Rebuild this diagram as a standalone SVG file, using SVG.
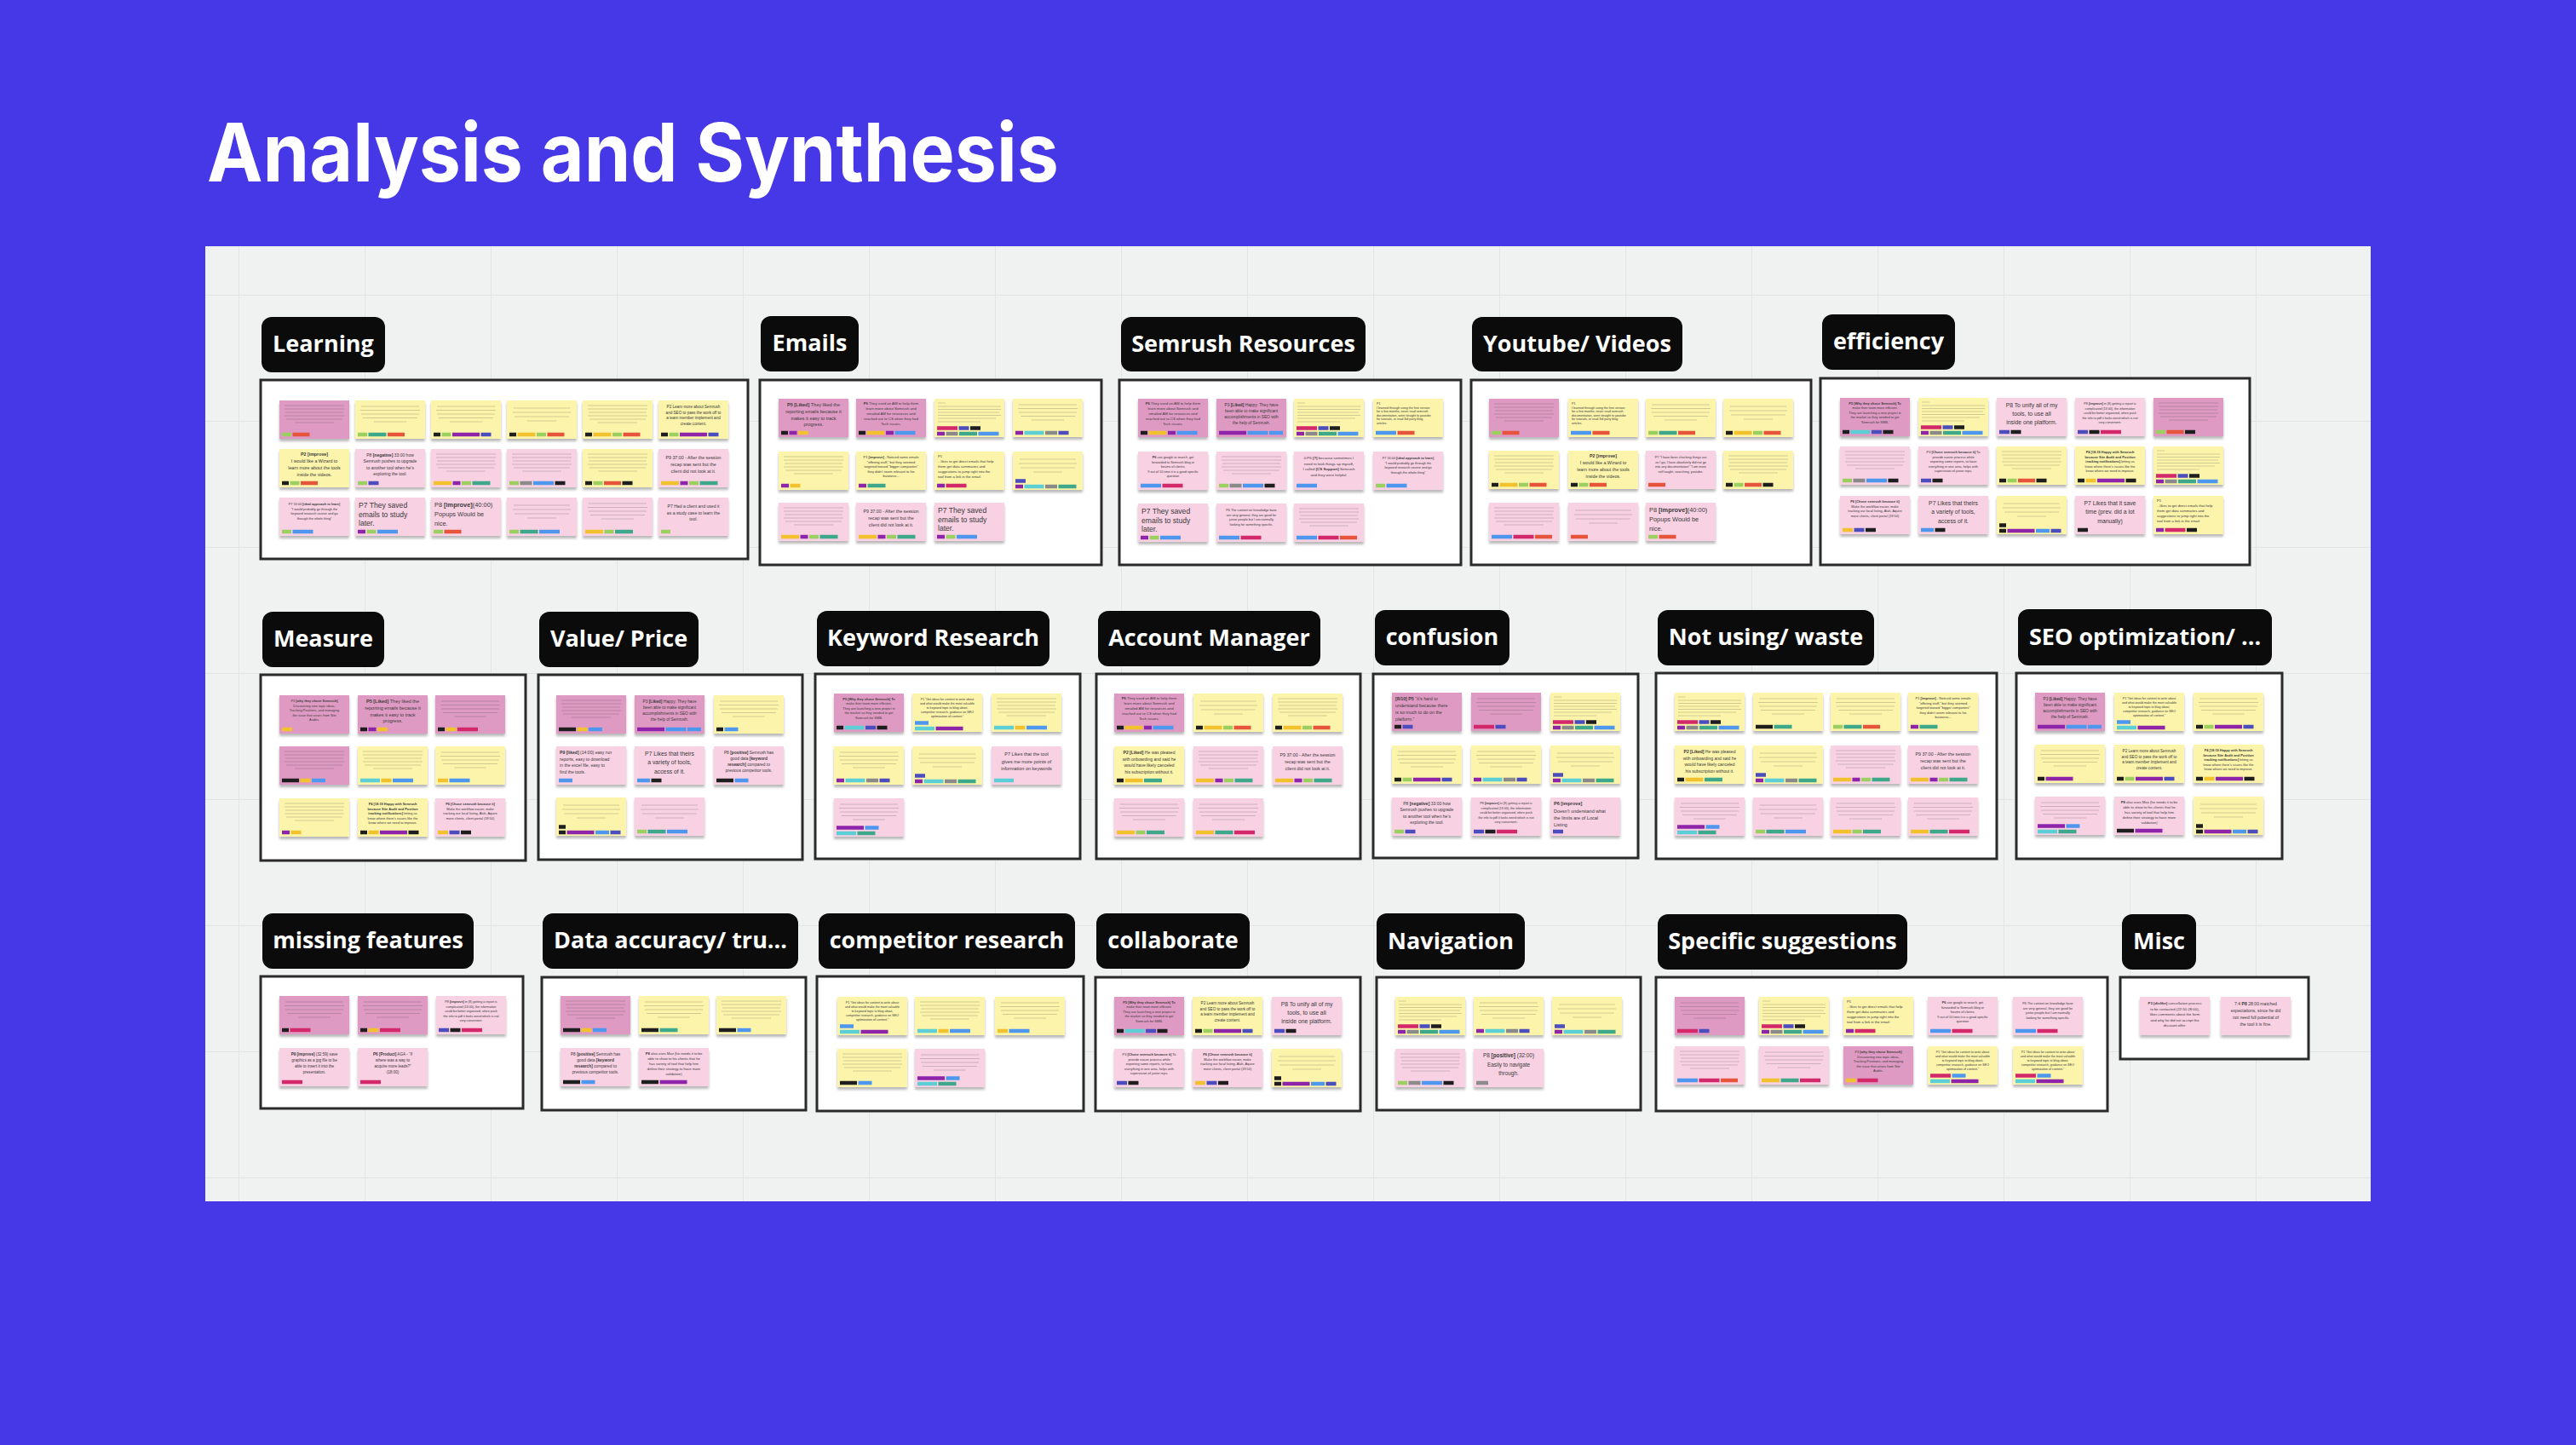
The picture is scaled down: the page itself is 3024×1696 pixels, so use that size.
<svg xmlns="http://www.w3.org/2000/svg" xmlns:xlink="http://www.w3.org/1999/xlink" width="3024" height="1696" viewBox="0 0 3024 1696">
<style>
.lbl rect{fill:#0b0b0b}
.lbl text{font-family:"Open Sans","Liberation Sans",Arial,sans-serif;font-weight:700;font-size:27px;fill:#fff;text-anchor:middle}
.frm{fill:#fff;stroke:#2a2a2a;stroke-width:3}
.bgD{fill:#df9ac3}.bgP{fill:#f8d1e3}.bgY{fill:#fcf4ab}
.sh{filter:url(#ds)}
.tx{font-family:"Liberation Sans",Arial,sans-serif;fill:#3a3a3a}
.c{text-anchor:middle}
.ln{stroke:#444;stroke-width:1.2;opacity:.24;fill:none}
.k,.g,.o,.t,.p,.i,.y,.b,.cy,.r,.a{stroke-width:4.5;fill:none}
.k{stroke:#1e1e1e}.g{stroke:#9bd060}.o{stroke:#e5543b}.t{stroke:#3da88a}.p{stroke:#8e24aa}.i{stroke:#4b4dbe}.y{stroke:#f2c12e}.b{stroke:#4e97ef}.cy{stroke:#5ccfd6}.r{stroke:#d3286a}.a{stroke:#8a8a8a}
</style>
<defs>
<filter id="ds" x="-10%" y="-10%" width="120%" height="150%"><feDropShadow dx="0" dy="3" stdDeviation="1.6" flood-color="#000" flood-opacity=".28"/></filter>
<pattern id="grid" x="132" y="50" width="148" height="148" patternUnits="userSpaceOnUse"><path d="M0 0V148M0 0H148" stroke="#e3e5e5" stroke-width="2" fill="none"/></pattern>
<path id="L6" class="ln" d="M6 6h70M6 10h70M7 14h68M6 18h70M8 22h66M18 26h46"/>
<path id="L5" class="ln" d="M7 7h68M6 11.5h70M7 16h68M9 20.5h64M22 25h38"/>
<path id="L4" class="ln" d="M8 9h66M7 14h68M9 19h64M24 24h34"/>
<path id="Lt" class="ln" d="M4 5h9M4 9h74M4 12.5h74M4 16h72M4 19.5h74M4 23h68M4 27h50"/>

<g id="s_l1"><rect class="bgD sh" width="82" height="45"/><use href="#L6"/><path class="g" d="M3 40h11"/><path class="o" d="M15.5 40h20"/></g>
<g id="s_l2"><rect class="bgY sh" width="82" height="45"/><use href="#L5"/><path class="g" d="M3 40h11"/><path class="t" d="M15.5 40h21"/><path class="o" d="M38 40h20"/></g>
<g id="s_l3"><rect class="bgY sh" width="82" height="45"/><use href="#L5"/><path class="k" d="M3 40h8"/><path class="g" d="M12.5 40h11"/><path class="p" d="M25 40h32"/><path class="i" d="M58.5 40h12"/></g>
<g id="s_l4"><rect class="bgY sh" width="82" height="45"/><use href="#L4"/><path class="k" d="M3 40h8"/><path class="y" d="M12.5 40h21"/><path class="g" d="M35 40h11"/><path class="o" d="M47.5 40h20"/></g>
<g id="s_p4sat"><rect class="bgY sh" width="82" height="45"/><use href="#L6"/><path class="k" d="M3 40h8"/><path class="y" d="M12.5 40h21"/><path class="g" d="M35 40h11"/><path class="o" d="M47.5 40h20"/></g>
<g id="s_p2learn"><rect class="bgY sh" width="82" height="45"/><text class="tx c" font-size="4.6"><tspan x="41" y="9">P2 Learn more about Semrush</tspan><tspan x="41" y="15.5">and SEO to pass the work off to</tspan><tspan x="41" y="22">a team member implement and</tspan><tspan x="41" y="28.5">create content.</tspan></text><path class="k" d="M3 40h8"/><path class="g" d="M12.5 40h11"/><path class="p" d="M25 40h32"/><path class="i" d="M58.5 40h12"/></g>
<g id="s_p2wiz"><rect class="bgY sh" width="82" height="45"/><text class="tx c" font-size="5.3"><tspan x="41" y="8" font-weight="700">P2 [improve]</tspan><tspan x="41" y="16">I would like a Wizard to</tspan><tspan x="41" y="24">learn more about the tools</tspan><tspan x="41" y="32">inside the videos.</tspan></text><path class="k" d="M3 40h8"/><path class="g" d="M12.5 40h11"/><path class="o" d="M25 40h20"/></g>
<g id="s_p8neg"><rect class="bgP sh" width="82" height="45"/><text class="tx c" font-size="5"><tspan x="41" y="8.5">P8 <tspan font-weight="700">[negative]</tspan> 33:00 how</tspan><tspan x="41" y="16">Semrush pushes to upgrade</tspan><tspan x="41" y="23.5">to another tool when he’s</tspan><tspan x="41" y="31">exploring the tool.</tspan></text><path class="g" d="M3 40h11"/><path class="i" d="M15.5 40h12"/></g>
<g id="s_p4_07"><rect class="bgP sh" width="82" height="45"/><use href="#L6"/><path class="y" d="M3 40h21"/><path class="p" d="M25.5 40h9"/><path class="g" d="M36 40h11"/><path class="t" d="M48.5 40h21"/></g>
<g id="s_l10"><rect class="bgP sh" width="82" height="45"/><use href="#L6"/><path class="g" d="M3 40h11"/><path class="a" d="M15.5 40h14"/><path class="b" d="M31 40h24"/><path class="k" d="M56.5 40h12"/></g>
<g id="s_l11"><rect class="bgY sh" width="82" height="45"/><use href="#L6"/><path class="k" d="M3 40h8M46.5 40h12"/><path class="g" d="M12.5 40h11"/><path class="o" d="M25 40h20"/></g>
<g id="s_p9recap"><rect class="bgP sh" width="82" height="45"/><text class="tx c" font-size="5.3"><tspan x="41" y="12">P9 37:00 - After the session</tspan><tspan x="41" y="20">recap was sent but the</tspan><tspan x="41" y="28">client did not look at it.</tspan></text><path class="y" d="M3 40h21"/><path class="p" d="M25.5 40h9"/><path class="g" d="M36 40h11"/><path class="t" d="M48.5 40h21"/></g>
<g id="s_p7ideal"><rect class="bgP sh" width="82" height="45"/><text class="tx c" font-size="3.8"><tspan x="41" y="9">P7 16:00 <tspan font-weight="700">[ideal approach to learn]</tspan></tspan><tspan x="41" y="14.5">“I would probably go through the</tspan><tspan x="41" y="20">keyword research course and go</tspan><tspan x="41" y="25.5">through the whole thing”</tspan></text><path class="g" d="M3 40h11"/><path class="b" d="M15.5 40h24"/></g>
<g id="s_p7saved"><rect class="bgP sh" width="82" height="45"/><text class="tx" font-size="8.6"><tspan x="4" y="11.5">P7 They saved</tspan><tspan x="4" y="22.5">emails to study</tspan><tspan x="4" y="33">later.</tspan></text><path class="p" d="M3 40h9"/><path class="g" d="M13.5 40h11"/><path class="b" d="M26 40h24"/></g>
<g id="s_p8popup"><rect class="bgP sh" width="82" height="45"/><text class="tx" font-size="7.4"><tspan x="4" y="11">P8 <tspan font-weight="700">[improve]</tspan>(40:00)</tspan><tspan x="4" y="22">Popups Would be</tspan><tspan x="4" y="32.5">nice.</tspan></text><path class="g" d="M3 40h11"/><path class="o" d="M15.5 40h20"/></g>
<g id="s_l16"><rect class="bgP sh" width="82" height="45"/><use href="#L4"/><path class="g" d="M3 40h11"/><path class="t" d="M15.5 40h21"/><path class="b" d="M38 40h24"/></g>
<g id="s_l17"><rect class="bgP sh" width="82" height="45"/><use href="#L5"/><path class="y" d="M3 40h21"/><path class="g" d="M25.5 40h11"/><path class="t" d="M38 40h21"/></g>
<g id="s_p7client"><rect class="bgP sh" width="82" height="45"/><text class="tx c" font-size="5.1"><tspan x="41" y="12">P7 Had a client and used it</tspan><tspan x="41" y="19.5">as a study case to learn the</tspan><tspan x="41" y="27">tool.</tspan></text><path class="g" d="M3 40h11"/></g>
<g id="s_p5liked"><rect class="bgD sh" width="82" height="45"/><text class="tx c" font-size="5.5"><tspan x="41" y="9"><tspan font-weight="700">P5 [Liked]</tspan> They liked the</tspan><tspan x="41" y="16.8">reporting emails because it</tspan><tspan x="41" y="24.6">makes it easy to track</tspan><tspan x="41" y="32.4">progress.</tspan></text><path class="k" d="M3 40h8"/><path class="p" d="M12.5 40h9"/><path class="y" d="M23 40h12"/></g>
<g id="s_p6am"><rect class="bgD sh" width="82" height="45"/><text class="tx c" font-size="4.3"><tspan x="41" y="7"><tspan font-weight="700">P6</tspan> They used an AM to help them</tspan><tspan x="41" y="13">learn more about Semrush and</tspan><tspan x="41" y="19">emailed AM for resources and</tspan><tspan x="41" y="25">reached out to CS when they had</tspan><tspan x="41" y="31">Tech issues.</tspan></text><path class="k" d="M3 40h8"/><path class="y" d="M12.5 40h21"/><path class="p" d="M35 40h9"/><path class="b" d="M45.5 40h24"/></g>
<g id="s_y2row"><rect class="bgY sh" width="82" height="45"/><use href="#Lt"/><path class="r" d="M3 34.5h24"/><path class="i" d="M28.5 34.5h12"/><path class="k" d="M42 34.5h12"/><path class="p" d="M3 41h9"/><path class="a" d="M13.5 41h14"/><path class="t" d="M29 41h21"/><path class="b" d="M51.5 41h24"/></g>
<g id="s_e4"><rect class="bgY sh" width="82" height="45"/><use href="#L5"/><path class="p" d="M3 40h9"/><path class="cy" d="M13.5 40h23"/><path class="a" d="M38 40h14"/><path class="i" d="M53.5 40h12"/></g>
<g id="s_e5"><rect class="bgY sh" width="82" height="45"/><use href="#L6"/><path class="p" d="M3 40h9"/><path class="y" d="M13.5 40h12"/></g>
<g id="s_p1offer"><rect class="bgY sh" width="82" height="45"/><text class="tx c" font-size="4"><tspan x="41" y="8">P1 <tspan font-weight="700">[improve]</tspan> - Noticed some emails</tspan><tspan x="41" y="13.5">“offering stuff,” but they seemed</tspan><tspan x="41" y="19">targeted toward “bigger companies”</tspan><tspan x="41" y="24.5">they didn’t seem relevant to his</tspan><tspan x="41" y="30">business...</tspan></text><path class="p" d="M3 40h9"/><path class="t" d="M13.5 40h21"/></g>
<g id="s_p1emails"><rect class="bgY sh" width="82" height="45"/><text class="tx" font-size="4.2"><tspan x="4" y="7">P1</tspan><tspan x="4" y="13">...likes to get direct emails that help</tspan><tspan x="4" y="19">them get data summaries and</tspan><tspan x="4" y="25">suggestions to jump right into the</tspan><tspan x="4" y="31">tool from a link in the email.</tspan></text><path class="p" d="M3 40h9"/><path class="r" d="M13.5 40h24"/></g>
<g id="s_p1emails2"><use href="#s_p1emails"/><path class="k" d="M39 40h12"/></g>
<g id="s_e8"><rect class="bgY sh" width="82" height="45"/><use href="#L4"/><path class="i" d="M3 34.5h12"/><path class="p" d="M3 41h9"/><path class="cy" d="M13.5 41h23"/><path class="a" d="M38 41h14"/><path class="t" d="M53.5 41h21"/></g>
<g id="s_p3happy"><rect class="bgD sh" width="82" height="45"/><text class="tx c" font-size="4.8"><tspan x="41" y="9">P3 <tspan font-weight="700">[Liked]</tspan> Happy: They have</tspan><tspan x="41" y="16">been able to make significant</tspan><tspan x="41" y="23">accomplishments in SEO with</tspan><tspan x="41" y="30">the help of Semrush.</tspan></text><path class="p" d="M3 40h32"/><path class="b" d="M36.5 40h24M62 40h16"/></g>
<g id="s_p1learned"><rect class="bgY sh" width="82" height="45"/><text class="tx" font-size="3.6"><tspan x="4" y="6.5">P1</tspan><tspan x="4" y="11.5">I learned through using the free version</tspan><tspan x="4" y="16">for a few months, never read semrush</tspan><tspan x="4" y="20.5">documentation, went straight to youtube</tspan><tspan x="4" y="25">for tutorials, or read 3rd party blog</tspan><tspan x="4" y="29.5">articles.</tspan></text><path class="b" d="M3 40h24"/><path class="o" d="M28.5 40h20"/></g>
<g id="s_p6google"><rect class="bgP sh" width="82" height="45"/><text class="tx c" font-size="3.8"><tspan x="41" y="8"><tspan font-weight="700">P6</tspan> use google to search, get</tspan><tspan x="41" y="13.5">forwarded to Semrush blog or</tspan><tspan x="41" y="19">forums of clients.</tspan><tspan x="41" y="24.5">9 out of 10 time it is a good specific</tspan><tspan x="41" y="30">question</tspan></text><path class="b" d="M3 40h24"/><path class="r" d="M28.5 40h24"/></g>
<g id="s_p6cs"><rect class="bgP sh" width="82" height="45"/><text class="tx c" font-size="4.4"><tspan x="41" y="9">0:P6 <tspan font-weight="700">[?]</tspan> because sometimes I</tspan><tspan x="41" y="15.5">need to look things up myself,</tspan><tspan x="41" y="22">I called <tspan font-weight="700">[CS Support]</tspan> Semrush</tspan><tspan x="41" y="28.5">and they were helpful.</tspan></text><path class="b" d="M3 40h24"/></g>
<g id="s_p6content"><rect class="bgP sh" width="82" height="45"/><text class="tx c" font-size="3.8"><tspan x="41" y="9">P6 The content on knowledge base</tspan><tspan x="41" y="14.5">are very general, they are good for</tspan><tspan x="41" y="20">junior people but I am normally</tspan><tspan x="41" y="25.5">looking for something specific.</tspan></text><path class="b" d="M3 40h24"/><path class="r" d="M28.5 40h24"/></g>
<g id="s_sr11"><rect class="bgP sh" width="82" height="45"/><use href="#L6"/><path class="b" d="M3 40h24"/><path class="r" d="M28.5 40h24"/><path class="o" d="M54 40h20"/></g>
<g id="s_p7check"><rect class="bgP sh" width="82" height="45"/><text class="tx c" font-size="3.8"><tspan x="41" y="9">P7 “I have been checking things out</tspan><tspan x="41" y="14.5">as I go, I have absolutely did not go</tspan><tspan x="41" y="20">into any documentation” “I am more</tspan><tspan x="41" y="25.5">self taught, searching, youtube.</tspan></text><path class="o" d="M3 40h20"/></g>
<g id="s_p7video"><rect class="bgP sh" width="82" height="45"/><use href="#L4"/><path class="o" d="M3 40h20"/></g>
<g id="s_p5why"><rect class="bgD sh" width="82" height="45"/><text class="tx c" font-size="3.9"><tspan x="41" y="7.5" font-weight="700">P5 [Why they chose Semrush] To</tspan><tspan x="41" y="13">make their team more efficient.</tspan><tspan x="41" y="18.5">They are launching a new project in</tspan><tspan x="41" y="24">the market so they needed to get</tspan><tspan x="41" y="29.5">Semrush for SMB.</tspan></text><path class="k" d="M3 40h8M50.5 40h12"/><path class="cy" d="M12.5 40h23"/><path class="i" d="M37 40h12"/></g>
<g id="s_p8unify"><rect class="bgP sh" width="82" height="45"/><text class="tx c" font-size="6.8"><tspan x="41" y="10.5">P8 To unify all of my</tspan><tspan x="41" y="20.5">tools, to use all</tspan><tspan x="41" y="30.5">inside one platform.</tspan></text><path class="i" d="M3 40h12"/><path class="k" d="M16.5 40h12"/></g>
<g id="s_p8report"><rect class="bgP sh" width="82" height="45"/><text class="tx c" font-size="3.7"><tspan x="41" y="8">P8 <tspan font-weight="700">[improve]</tspan> in (8) getting a report is</tspan><tspan x="41" y="13.5">complicated (13:00), the information</tspan><tspan x="41" y="19">could be better organized, when push</tspan><tspan x="41" y="24.5">the info to pdf it looks weird which is not</tspan><tspan x="41" y="30">very convenient.</tspan></text><path class="i" d="M3 40h12"/><path class="k" d="M16.5 40h12"/><path class="r" d="M30 40h24"/></g>
<g id="s_ef5"><rect class="bgD sh" width="82" height="45"/><use href="#L6"/><path class="g" d="M3 40h11"/><path class="o" d="M15.5 40h20"/><path class="k" d="M37 40h12"/></g>
<g id="s_p3chose"><rect class="bgP sh" width="82" height="45"/><text class="tx c" font-size="3.9"><tspan x="41" y="8">P3 <tspan font-weight="700">[Chose semrush because it]</tspan> To</tspan><tspan x="41" y="13.5">provide easier process while</tspan><tspan x="41" y="19">exporting some reports, to have</tspan><tspan x="41" y="24.5">everything in one area, helps with</tspan><tspan x="41" y="30">supervision of junior reps.</tspan></text><path class="i" d="M3 40h12"/><path class="k" d="M16.5 40h12"/></g>
<g id="s_p4happy"><rect class="bgY sh" width="82" height="45"/><text class="tx c" font-size="3.9"><tspan x="41" y="8" font-weight="700">P4 [18:19 Happy with Semrush</tspan><tspan x="41" y="13.5" font-weight="700">because Site Audit and Position</tspan><tspan x="41" y="19"><tspan font-weight="700">tracking notifications]</tspan> letting us</tspan><tspan x="41" y="24.5">know where there’s issues like the</tspan><tspan x="41" y="30">know where we need to improve.</tspan></text><path class="k" d="M3 40h8M59.5 40h12"/><path class="y" d="M12.5 40h12"/><path class="p" d="M26 40h32"/></g>
<g id="s_p6chose"><rect class="bgP sh" width="82" height="45"/><text class="tx c" font-size="3.9"><tspan x="41" y="8" font-weight="700">P6 [Chose semrush because it]</tspan><tspan x="41" y="13.5">Make the workflow easier, make</tspan><tspan x="41" y="19">tracking our local listing, Alah, Aquire</tspan><tspan x="41" y="24.5">more clients, client portal (19:50)</tspan></text><path class="y" d="M3 40h12"/><path class="i" d="M16.5 40h12"/><path class="k" d="M30 40h12"/></g>
<g id="s_p7variety"><rect class="bgP sh" width="82" height="45"/><text class="tx c" font-size="6.8"><tspan x="41" y="10.5">P7 Likes that theirs</tspan><tspan x="41" y="21">a variety of tools,</tspan><tspan x="41" y="31.5">access of it.</tspan></text><path class="b" d="M3 40h15"/><path class="k" d="M19.5 40h12"/></g>
<g id="s_p9yt"><rect class="bgY sh" width="82" height="45"/><use href="#L4"/><path class="k" d="M3 34.5h8M3 41h8"/><path class="p" d="M12.5 41h32"/><path class="b" d="M46 41h16"/><path class="i" d="M63.5 41h12"/></g>
<g id="s_p7time"><rect class="bgP sh" width="82" height="45"/><text class="tx c" font-size="6.8"><tspan x="41" y="10.5">P7 Likes that it save</tspan><tspan x="41" y="21">time (prev. did a lot</tspan><tspan x="41" y="31.5">manually)</tspan></text><path class="k" d="M3 40h12"/></g>
<g id="s_p3why"><rect class="bgD sh" width="82" height="45"/><text class="tx c" font-size="3.9"><tspan x="41" y="8">P3 <tspan font-weight="700">[why they chose Semrush]</tspan></tspan><tspan x="41" y="13.5">Discovering new topic ideas,</tspan><tspan x="41" y="19">Tracking Positions, and managing</tspan><tspan x="41" y="24.5">the issue that arises from Site</tspan><tspan x="41" y="30">Audits.</tspan></text><path class="y" d="M3 40h12"/></g>
<g id="s_p3why2"><use href="#s_p3why"/><path class="r" d="M16.5 40h24"/></g>
<g id="s_m3"><rect class="bgD sh" width="82" height="45"/><use href="#L5"/><path class="k" d="M3 40h8"/><path class="y" d="M12.5 40h12"/><path class="r" d="M26 40h24"/></g>
<g id="s_m4"><rect class="bgD sh" width="82" height="45"/><use href="#L6"/><path class="k" d="M3 40h20"/><path class="y" d="M24.5 40h12"/><path class="b" d="M38 40h16"/></g>
<g id="s_m5"><rect class="bgY sh" width="82" height="45"/><use href="#L6"/><path class="cy" d="M3 40h23"/><path class="y" d="M27.5 40h12"/><path class="b" d="M41 40h24"/></g>
<g id="s_m6"><rect class="bgY sh" width="82" height="45"/><use href="#L5"/><path class="y" d="M3 40h12"/><path class="b" d="M16.5 40h24"/></g>
<g id="s_v3"><rect class="bgY sh" width="82" height="45"/><use href="#L5"/><path class="k" d="M3 40h8"/><path class="b" d="M12.5 40h16"/></g>
<g id="s_p9liked"><rect class="bgP sh" width="82" height="45"/><text class="tx" font-size="5.1"><tspan x="4" y="9"><tspan font-weight="700">P9 [liked]</tspan> (14:00) easy run</tspan><tspan x="4" y="16.5">reports, easy to download</tspan><tspan x="4" y="24">in the excel file, easy to</tspan><tspan x="4" y="31.5">find the tools.</tspan></text><path class="b" d="M3 40h16"/></g>
<g id="s_p8pos"><rect class="bgP sh" width="82" height="45"/><text class="tx c" font-size="4.8"><tspan x="41" y="9">P8 <tspan font-weight="700">[positive]</tspan> Semrush has</tspan><tspan x="41" y="16">good data <tspan font-weight="700">[keyword</tspan></tspan><tspan x="41" y="23"><tspan font-weight="700">research]</tspan> compared to</tspan><tspan x="41" y="30">previous competitor tools.</tspan></text><path class="k" d="M3 40h20"/><path class="b" d="M24.5 40h16"/></g>
<g id="t_p1ideas"><rect class="bgY sh" width="82" height="45"/><text class="tx c" font-size="3.6"><tspan x="41" y="7.5">P1 “Get ideas for content to write about</tspan><tspan x="41" y="12.5">and what would make the most valuable</tspan><tspan x="41" y="17.5">to keyword topic to blog about,</tspan><tspan x="41" y="22.5">competitor research, guidance on SEO</tspan><tspan x="41" y="27.5">optimization of content.”</tspan></text></g>
<g id="s_p1ideas"><use href="#t_p1ideas"/><path class="b" d="M3 34.5h16"/><path class="cy" d="M3 41h23"/><path class="p" d="M27.5 41h32"/></g>
<g id="s_p1ideas2"><use href="#t_p1ideas"/><path class="r" d="M3 34.5h24"/><path class="b" d="M28.5 34.5h16"/><path class="cy" d="M3 41h23"/><path class="p" d="M27.5 41h32"/></g>
<g id="s_p7kw"><rect class="bgP sh" width="82" height="45"/><text class="tx c" font-size="5.5"><tspan x="41" y="11">P7 Likes that the tool</tspan><tspan x="41" y="19.5">gives me more points of</tspan><tspan x="41" y="28">information on keywords</tspan></text><path class="cy" d="M3 40h23"/></g>
<g id="s_p8signed"><rect class="bgP sh" width="82" height="45"/><use href="#L5"/><path class="p" d="M3 34.5h32"/><path class="b" d="M36.5 34.5h16"/><path class="cy" d="M3 41h23"/><path class="t" d="M27.5 41h21"/></g>
<g id="s_p2liked"><rect class="bgY sh" width="82" height="45"/><text class="tx c" font-size="5"><tspan x="41" y="9"><tspan font-weight="700">P2 [Liked]</tspan> He was pleased</tspan><tspan x="41" y="16.5">with onboarding and said he</tspan><tspan x="41" y="24">would have likely canceled</tspan><tspan x="41" y="31.5">his subscription without it.</tspan></text><path class="k" d="M3 40h8"/><path class="y" d="M12.5 40h21"/><path class="t" d="M35 40h21"/></g>
<g id="s_am8"><rect class="bgP sh" width="82" height="45"/><use href="#L5"/><path class="y" d="M3 40h21"/><path class="t" d="M25.5 40h21"/><path class="r" d="M48 40h24"/></g>
<g id="s_p5hard"><rect class="bgD sh" width="82" height="45"/><text class="tx" font-size="5.3"><tspan x="4" y="9"><tspan font-weight="700">[8/10] P5</tspan> “It’s hard to</tspan><tspan x="4" y="17">understand because there</tspan><tspan x="4" y="25">is so much to do on the</tspan><tspan x="4" y="33">platform.”</tspan></text><path class="k" d="M3 40h8"/><path class="i" d="M12.5 40h12"/></g>
<g id="s_c2"><rect class="bgD sh" width="82" height="45"/><use href="#L5"/><path class="r" d="M3 40h24"/><path class="i" d="M28.5 40h12"/></g>
<g id="s_p6local"><rect class="bgP sh" width="82" height="45"/><text class="tx" font-size="5.5"><tspan x="4" y="9" font-weight="700">P6 [improve]</tspan><tspan x="4" y="17.5">Doesn’t understand what</tspan><tspan x="4" y="26">the limits are of Local</tspan><tspan x="4" y="34">Listing</tspan></text><path class="i" d="M3 40h12"/></g>
<g id="s_nu2"><rect class="bgY sh" width="82" height="45"/><use href="#L5"/><path class="k" d="M3 40h20"/><path class="t" d="M24.5 40h21"/></g>
<g id="s_seo4"><rect class="bgY sh" width="82" height="45"/><use href="#L5"/><path class="k" d="M3 40h8"/><path class="p" d="M12.5 40h32"/></g>
<g id="s_p8moz"><rect class="bgP sh" width="82" height="45"/><text class="tx c" font-size="4.2"><tspan x="41" y="8"><tspan font-weight="700">P8</tspan> also uses Moz (he needs it to be</tspan><tspan x="41" y="14">able to show to his clients that he</tspan><tspan x="41" y="20">has variety of tool that help him</tspan><tspan x="41" y="26">define their strategy to have more</tspan><tspan x="41" y="32">validation)</tspan></text><path class="k" d="M3 40h20"/><path class="p" d="M24.5 40h32"/></g>
<g id="s_mf1"><rect class="bgD sh" width="82" height="45"/><use href="#L5"/><path class="k" d="M3 40h8"/><path class="r" d="M12.5 40h24"/></g>
<g id="s_p9jpg"><rect class="bgP sh" width="82" height="45"/><text class="tx c" font-size="4.6"><tspan x="41" y="9"><tspan font-weight="700">P9 [improve]</tspan> (32:59) save</tspan><tspan x="41" y="16">graphics as a jpg file to be</tspan><tspan x="41" y="23">able to insert it into the</tspan><tspan x="41" y="30">presentation.</tspan></text><path class="r" d="M3 40h24"/></g>
<g id="s_p6aga"><rect class="bgP sh" width="82" height="45"/><text class="tx c" font-size="4.6"><tspan x="41" y="9"><tspan font-weight="700">P6 [Product]</tspan> AGA - “If</tspan><tspan x="41" y="16">where was a way to</tspan><tspan x="41" y="23">acquire more leads?”</tspan><tspan x="41" y="30">(18:00)</tspan></text><path class="r" d="M3 40h24"/></g>
<g id="s_da3"><rect class="bgY sh" width="82" height="45"/><use href="#L6"/><path class="k" d="M3 40h20"/><path class="b" d="M24.5 40h16"/></g>
<g id="s_p8nav"><rect class="bgP sh" width="82" height="45"/><text class="tx c" font-size="6.4"><tspan x="41" y="10">P8 <tspan font-weight="700">[positive]</tspan> (32:00)</tspan><tspan x="41" y="20.5">Easily to navigate</tspan><tspan x="41" y="31">through.</tspan></text><path class="a" d="M3 40h14"/></g>
<g id="s_misc1"><rect class="bgP sh" width="82" height="45"/><text class="tx c" font-size="4.3"><tspan x="41" y="9"><tspan font-weight="700">P3 [dislike]</tspan> cancellation process</tspan><tspan x="41" y="15.5">to be contacted (22:50-28:00),</tspan><tspan x="41" y="22">likes comments about the form</tspan><tspan x="41" y="28.5">and why he did not accept the</tspan><tspan x="41" y="35">discount offer.</tspan></text></g>
<g id="s_misc2"><rect class="bgP sh" width="82" height="45"/><text class="tx c" font-size="5.1"><tspan x="41" y="10">7:4 <tspan font-weight="700">P8</tspan> 28:00 matched</tspan><tspan x="41" y="18">expectations, since he did</tspan><tspan x="41" y="26">not need full potential of</tspan><tspan x="41" y="34">the tool it is fine.</tspan></text></g>
</defs>

<rect width="3024" height="1696" fill="#4638e6"/>
<text x="243" y="213" font-family="Inter,'Liberation Sans',Arial,sans-serif" font-weight="700" font-size="95" fill="#fff" textLength="1000" lengthAdjust="spacingAndGlyphs">Analysis and Synthesis</text>
<rect x="241" y="289" width="2542" height="1121" fill="#f0f1f1"/>
<rect x="241" y="289" width="2542" height="1121" fill="url(#grid)"/>

<g id="connectors"></g>

<g id="learning">
<rect class="frm" x="306" y="446" width="572" height="210"/>
<g class="lbl"><rect x="307" y="372" width="145" height="65" rx="12"/><text x="379.5" y="413">Learning</text></g>
<use href="#s_l1" x="328" y="470"/><use href="#s_l2" x="417" y="470"/><use href="#s_l3" x="506" y="470"/><use href="#s_l4" x="595" y="470"/><use href="#s_p4sat" x="684" y="470"/><use href="#s_p2learn" x="773" y="470"/>
<use href="#s_p2wiz" x="328" y="527"/><use href="#s_p8neg" x="417" y="527"/><use href="#s_p4_07" x="506" y="527"/><use href="#s_l10" x="595" y="527"/><use href="#s_l11" x="684" y="527"/><use href="#s_p9recap" x="773" y="527"/>
<use href="#s_p7ideal" x="328" y="584"/><use href="#s_p7saved" x="417" y="584"/><use href="#s_p8popup" x="506" y="584"/><use href="#s_l16" x="595" y="584"/><use href="#s_l17" x="684" y="584"/><use href="#s_p7client" x="773" y="584"/>
</g>

<g id="emails">
<rect class="frm" x="892" y="446" width="401" height="217"/>
<g class="lbl"><rect x="893" y="371" width="115" height="65" rx="12"/><text x="950.5" y="412">Emails</text></g>
<use href="#s_p5liked" x="914" y="468"/><use href="#s_p6am" x="1005" y="468"/><use href="#s_y2row" x="1097" y="468"/><use href="#s_e4" x="1189" y="468"/>
<use href="#s_e5" x="914" y="530"/><use href="#s_p1offer" x="1005" y="530"/><use href="#s_p1emails" x="1097" y="530"/><use href="#s_e8" x="1189" y="530"/>
<use href="#s_p4_07" x="914" y="590"/><use href="#s_p9recap" x="1005" y="590"/><use href="#s_p7saved" x="1097" y="590"/>
</g>

<g id="semrush-resources">
<rect class="frm" x="1314" y="446" width="401" height="217"/>
<g class="lbl"><rect x="1316" y="372" width="287" height="64" rx="12"/><text x="1459.5" y="413">Semrush Resources</text></g>
<use href="#s_p6am" x="1336" y="468"/><use href="#s_p3happy" x="1428" y="468"/><use href="#s_y2row" x="1519" y="468"/><use href="#s_p1learned" x="1612" y="468"/>
<use href="#s_p6google" x="1336" y="530"/><use href="#s_l10" x="1428" y="530"/><use href="#s_p6cs" x="1519" y="530"/><use href="#s_p7ideal" x="1612" y="530"/>
<use href="#s_p7saved" x="1336" y="591"/><use href="#s_p6content" x="1428" y="591"/><use href="#s_sr11" x="1519" y="591"/>
</g>

<g id="youtube-videos">
<rect class="frm" x="1727" y="446" width="399" height="217"/>
<g class="lbl"><rect x="1728" y="372" width="247" height="64" rx="12"/><text x="1851.5" y="413">Youtube/ Videos</text></g>
<use href="#s_l1" x="1748" y="468"/><use href="#s_p1learned" x="1841" y="468"/><use href="#s_l2" x="1932" y="468"/><use href="#s_l4" x="2023" y="468"/>
<use href="#s_p4sat" x="1748" y="529"/><use href="#s_p2wiz" x="1841" y="529"/><use href="#s_p7check" x="1932" y="529"/><use href="#s_l11" x="2023" y="529"/>
<use href="#s_sr11" x="1748" y="590"/><use href="#s_p7video" x="1841" y="590"/><use href="#s_p8popup" x="1932" y="590"/>
</g>

<g id="efficiency">
<rect class="frm" x="2137" y="444" width="504" height="219"/>
<g class="lbl"><rect x="2139" y="369" width="156" height="65" rx="12"/><text x="2217" y="410">efficiency</text></g>
<use href="#s_p5why" x="2160" y="467"/><use href="#s_y2row" x="2252" y="467"/><use href="#s_p8unify" x="2344" y="467"/><use href="#s_p8report" x="2436" y="467"/><use href="#s_ef5" x="2528" y="467"/>
<use href="#s_l10" x="2160" y="524"/><use href="#s_p3chose" x="2252" y="524"/><use href="#s_l11" x="2344" y="524"/><use href="#s_p4happy" x="2436" y="524"/><use href="#s_y2row" x="2528" y="524"/>
<use href="#s_p6chose" x="2160" y="582"/><use href="#s_p7variety" x="2252" y="582"/><use href="#s_p9yt" x="2344" y="582"/><use href="#s_p7time" x="2436" y="582"/><use href="#s_p1emails2" x="2528" y="582"/>
</g>

<g id="measure">
<rect class="frm" x="306" y="792" width="311" height="218"/>
<g class="lbl"><rect x="308" y="718" width="143" height="65" rx="12"/><text x="379.5" y="759">Measure</text></g>
<use href="#s_p3why" x="328" y="816"/><use href="#s_p5liked" x="420" y="816"/><use href="#s_m3" x="511" y="816"/>
<use href="#s_m4" x="328" y="876"/><use href="#s_m5" x="420" y="876"/><use href="#s_m6" x="511" y="876"/>
<use href="#s_e5" x="328" y="937"/><use href="#s_p4happy" x="420" y="937"/><use href="#s_p6chose" x="511" y="937"/>
</g>

<g id="value-price">
<rect class="frm" x="632" y="792" width="310" height="217"/>
<g class="lbl"><rect x="633" y="718" width="187" height="65" rx="12"/><text x="726.5" y="759">Value/ Price</text></g>
<use href="#s_m4" x="653" y="816"/><use href="#s_p3happy" x="745" y="816"/><use href="#s_v3" x="838" y="816"/>
<use href="#s_p9liked" x="653" y="876"/><use href="#s_p7variety" x="745" y="876"/><use href="#s_p8pos" x="838" y="876"/>
<use href="#s_p9yt" x="653" y="936"/><use href="#s_l16" x="745" y="936"/>
</g>

<g id="keyword-research">
<rect class="frm" x="957" y="791" width="311" height="217"/>
<g class="lbl"><rect x="959" y="717" width="273" height="65" rx="12"/><text x="1095.5" y="758">Keyword Research</text></g>
<use href="#s_p5why" x="979" y="814"/><use href="#s_p1ideas" x="1071" y="814"/><use href="#s_m5" x="1164" y="814"/>
<use href="#s_e4" x="979" y="876"/><use href="#s_e8" x="1071" y="876"/><use href="#s_p7kw" x="1164" y="876"/>
<use href="#s_p8signed" x="979" y="937"/>
</g>

<g id="account-manager">
<rect class="frm" x="1287" y="791" width="310" height="217"/>
<g class="lbl"><rect x="1289" y="717" width="261" height="65" rx="12"/><text x="1419.5" y="758">Account Manager</text></g>
<use href="#s_p6am" x="1308" y="814"/><use href="#s_l4" x="1401" y="814"/><use href="#s_p4sat" x="1494" y="814"/>
<use href="#s_p2liked" x="1308" y="876"/><use href="#s_p4_07" x="1401" y="876"/><use href="#s_p9recap" x="1494" y="876"/>
<use href="#s_l17" x="1308" y="937"/><use href="#s_am8" x="1401" y="937"/>
</g>

<g id="confusion">
<rect class="frm" x="1612" y="791" width="311" height="216"/>
<g class="lbl"><rect x="1614" y="716" width="158" height="65" rx="12"/><text x="1693" y="757">confusion</text></g>
<use href="#s_p5hard" x="1634" y="813"/><use href="#s_c2" x="1727" y="813"/><use href="#s_y2row" x="1820" y="813"/>
<use href="#s_l3" x="1634" y="875"/><use href="#s_e4" x="1727" y="875"/><use href="#s_e8" x="1820" y="875"/>
<use href="#s_p8neg" x="1634" y="936"/><use href="#s_p8report" x="1727" y="936"/><use href="#s_p6local" x="1820" y="936"/>
</g>

<g id="not-using-waste">
<rect class="frm" x="1944" y="790" width="400" height="218"/>
<g class="lbl"><rect x="1946" y="716" width="254" height="65" rx="12"/><text x="2073" y="757">Not using/ waste</text></g>
<use href="#s_y2row" x="1966" y="813"/><use href="#s_nu2" x="2058" y="813"/><use href="#s_l2" x="2149" y="813"/><use href="#s_p1offer" x="2240" y="813"/>
<use href="#s_p2liked" x="1966" y="875"/><use href="#s_e8" x="2058" y="875"/><use href="#s_p4_07" x="2149" y="875"/><use href="#s_p9recap" x="2240" y="875"/>
<use href="#s_p8signed" x="1966" y="936"/><use href="#s_l16" x="2058" y="936"/><use href="#s_l17" x="2149" y="936"/><use href="#s_am8" x="2240" y="936"/>
</g>

<g id="seo-optimization">
<rect class="frm" x="2367" y="790" width="312" height="218"/>
<g class="lbl"><rect x="2369" y="715" width="298" height="66" rx="12"/><text x="2518" y="757">SEO optimization/ ...</text></g>
<use href="#s_p3happy" x="2389" y="813"/><use href="#s_p1ideas" x="2482" y="813"/><use href="#s_l3" x="2575" y="813"/>
<use href="#s_seo4" x="2389" y="874"/><use href="#s_p2learn" x="2482" y="874"/><use href="#s_p4happy" x="2575" y="874"/>
<use href="#s_p8signed" x="2389" y="935"/><use href="#s_p8moz" x="2482" y="935"/><use href="#s_p9yt" x="2575" y="935"/>
</g>

<g id="missing-features">
<rect class="frm" x="306" y="1146" width="308" height="155"/>
<g class="lbl"><rect x="308" y="1072" width="248" height="65" rx="12"/><text x="432" y="1113">missing features</text></g>
<use href="#s_mf1" x="328" y="1169"/><use href="#s_m3" x="420" y="1169"/><use href="#s_p8report" x="512" y="1169"/>
<use href="#s_p9jpg" x="328" y="1230"/><use href="#s_p6aga" x="420" y="1230"/>
</g>

<g id="data-accuracy">
<rect class="frm" x="636" y="1147" width="310" height="156"/>
<g class="lbl"><rect x="637" y="1072" width="300" height="65" rx="12"/><text x="787" y="1113">Data accuracy/ tru...</text></g>
<use href="#s_m4" x="658" y="1169"/><use href="#s_nu2" x="750" y="1169"/><use href="#s_da3" x="841" y="1169"/>
<use href="#s_p8pos" x="658" y="1230"/><use href="#s_p8moz" x="750" y="1230"/>
</g>

<g id="competitor-research">
<rect class="frm" x="959" y="1146" width="313" height="158"/>
<g class="lbl"><rect x="961" y="1072" width="301" height="65" rx="12"/><text x="1111.5" y="1113">competitor research</text></g>
<use href="#s_p1ideas" x="983" y="1170"/><use href="#s_m5" x="1074" y="1170"/><use href="#s_m6" x="1168" y="1170"/>
<use href="#s_da3" x="983" y="1231"/><use href="#s_p8signed" x="1074" y="1231"/>
</g>

<g id="collaborate">
<rect class="frm" x="1286" y="1147" width="311" height="157"/>
<g class="lbl"><rect x="1287" y="1072" width="180" height="65" rx="12"/><text x="1377" y="1113">collaborate</text></g>
<use href="#s_p5why" x="1308" y="1170"/><use href="#s_p2learn" x="1400" y="1170"/><use href="#s_p8unify" x="1493" y="1170"/>
<use href="#s_p3chose" x="1308" y="1231"/><use href="#s_p6chose" x="1400" y="1231"/><use href="#s_p9yt" x="1493" y="1231"/>
</g>

<g id="navigation">
<rect class="frm" x="1616" y="1147" width="310" height="156"/>
<g class="lbl"><rect x="1616" y="1072" width="174" height="66" rx="12"/><text x="1703" y="1114">Navigation</text></g>
<use href="#s_y2row" x="1638" y="1170"/><use href="#s_e4" x="1730" y="1170"/><use href="#s_e8" x="1822" y="1170"/>
<use href="#s_l10" x="1638" y="1231"/><use href="#s_p8nav" x="1730" y="1231"/>
</g>

<g id="specific-suggestions">
<rect class="frm" x="1944" y="1147" width="530" height="157"/>
<g class="lbl"><rect x="1946" y="1073" width="293" height="65" rx="12"/><text x="2092.5" y="1114">Specific suggestions</text></g>
<use href="#s_c2" x="1966" y="1170"/><use href="#s_y2row" x="2065" y="1170"/><use href="#s_p1emails" x="2164" y="1170"/><use href="#s_p6google" x="2263" y="1170"/><use href="#s_p6content" x="2363" y="1170"/>
<use href="#s_sr11" x="1966" y="1228"/><use href="#s_am8" x="2065" y="1228"/><use href="#s_p3why2" x="2164" y="1228"/><use href="#s_p1ideas2" x="2263" y="1228"/><use href="#s_p1ideas2" x="2363" y="1228"/>
</g>

<g id="misc">
<rect class="frm" x="2489" y="1147" width="221" height="96"/>
<g class="lbl"><rect x="2491" y="1073" width="87" height="65" rx="12"/><text x="2534.5" y="1114">Misc</text></g>
<use href="#s_misc1" x="2512" y="1170"/><use href="#s_misc2" x="2607" y="1170"/>
</g>
</svg>
